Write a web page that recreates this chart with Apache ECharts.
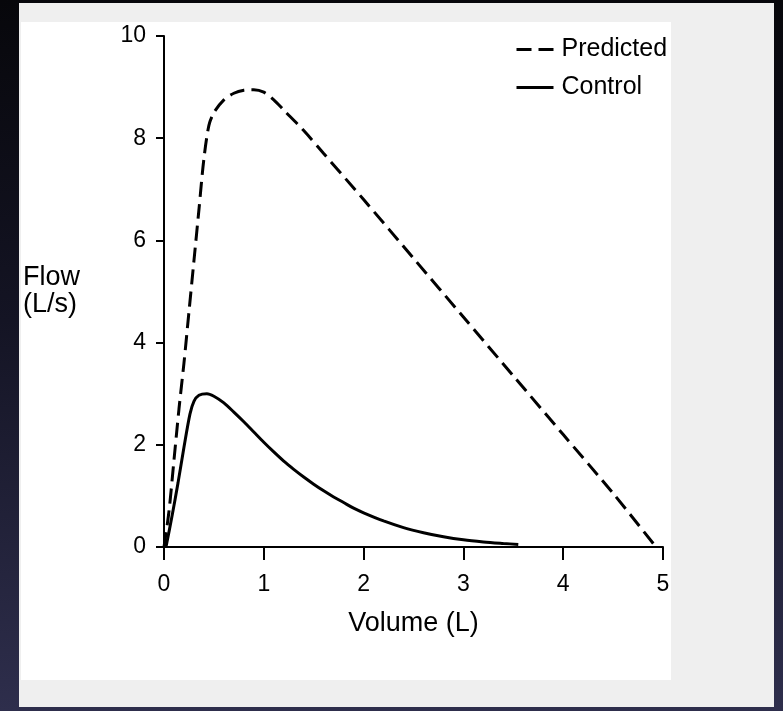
<!DOCTYPE html>
<html>
<head>
<meta charset="utf-8">
<script src="https://cdn.jsdelivr.net/npm/echarts@6/dist/echarts.min.js"></script>
<style>
  html, body { margin: 0; padding: 0; width: 783px; height: 711px; overflow: hidden;
    background: linear-gradient(180deg, #07070b 0%, #141424 45%, #2e2e4c 100%); }
  #chart { width: 783px; height: 711px; }
</style>
</head>
<body>
<div id="chart"></div>
<script>
// Data
const seriesNames = ['Predicted', 'Control'];
const predVol  = [0, 0.05, 0.1, 0.15, 0.2, 0.25, 0.3, 0.35, 0.4, 0.45, 0.5, 0.6, 0.7, 0.8, 0.9, 1.0, 1.1, 1.2, 1.4, 1.6, 2.0, 2.5, 3.0, 3.5, 4.0, 4.5, 4.93];
const predFlow = [0, 0.7, 1.7, 2.7, 3.6, 4.6, 5.6, 6.6, 7.6, 8.25, 8.5, 8.75, 8.88, 8.94, 8.95, 8.9, 8.75, 8.55, 8.15, 7.7, 6.8, 5.65, 4.5, 3.35, 2.2, 1.05, 0];
const ctrlVol  = [0.02, 0.08, 0.14, 0.2, 0.26, 0.3, 0.35, 0.43, 0.5, 0.6, 0.7, 0.8, 0.9, 1.0, 1.1, 1.2, 1.3, 1.4, 1.5, 1.6, 1.7, 1.8, 1.9, 2.0, 2.2, 2.4, 2.6, 2.8, 3.0, 3.2, 3.4, 3.55];
const ctrlFlow = [0, 0.6, 1.25, 1.95, 2.6, 2.85, 2.97, 3.0, 2.95, 2.82, 2.64, 2.45, 2.25, 2.05, 1.86, 1.68, 1.52, 1.37, 1.23, 1.1, 0.98, 0.87, 0.76, 0.67, 0.51, 0.38, 0.28, 0.2, 0.14, 0.1, 0.07, 0.05];
const xTickValues = [0, 1, 2, 3, 4, 5];
const yTickValues = [0, 2, 4, 6, 8, 10];

const FONT = "'Liberation Sans', Arial, sans-serif";

const chart = echarts.init(document.getElementById('chart'), null, { renderer: 'canvas' });

const option = {
  backgroundColor: 'transparent',
  animation: false,
  graphic: [
    { type: 'rect', z: -10, silent: true, shape: { x: 19, y: 3, width: 755, height: 704 }, style: { fill: '#efefef' } },
    { type: 'rect', z: -9, silent: true, shape: { x: 21, y: 22, width: 650, height: 658 }, style: { fill: '#ffffff' } }
  ],
  grid: { left: 164, top: 36, width: 499, height: 511, containLabel: false },
  legend: {
    orient: 'vertical',
    left: 510,
    top: 32,
    itemWidth: 37,
    itemHeight: 14,
    itemGap: 13,
    itemStyle: { color: 'transparent', borderColor: 'transparent', borderWidth: 0 },
    lineStyle: { width: 3, color: '#000' },
    textStyle: { fontFamily: FONT, fontSize: 25, color: '#000', padding: [0, 0, 0, 3] },
    data: seriesNames
  },
  xAxis: {
    type: 'value',
    min: 0, max: 5, interval: 1,
    name: 'Volume (L)',
    nameLocation: 'middle',
    nameGap: 63,
    nameTextStyle: { fontFamily: FONT, fontSize: 27, color: '#000', verticalAlign: 'top' },
    axisLine: { show: true, onZero: false, lineStyle: { color: '#000', width: 2 } },
    axisTick: { show: true, inside: false, length: 13, lineStyle: { color: '#000', width: 2 },
      customValues: xTickValues },
    axisLabel: { margin: 26, fontFamily: FONT, fontSize: 23, color: '#000',
      customValues: xTickValues },
    splitLine: { show: false }
  },
  yAxis: {
    type: 'value',
    min: 0, max: 10, interval: 2,
    name: 'Flow\n(L/s)',
    nameLocation: 'middle',
    nameRotate: 0,
    nameGap: 141,
    nameTextStyle: { fontFamily: FONT, fontSize: 27, color: '#000', align: 'left', lineHeight: 27,
      padding: [0, 0, 10, 0] },
    axisLine: { show: true, onZero: false, lineStyle: { color: '#000', width: 2 } },
    axisTick: { show: true, inside: false, length: 8, lineStyle: { color: '#000', width: 2 },
      customValues: yTickValues },
    axisLabel: { margin: 18, fontFamily: FONT, fontSize: 23, color: '#000',
      customValues: yTickValues },
    splitLine: { show: false }
  },
  series: [
    {
      name: seriesNames[0],
      type: 'line',
      smooth: 0.3,
      symbol: 'none',
      showSymbol: false,
      lineStyle: { color: '#000', width: 3, type: [15, 7] },
      itemStyle: { color: '#000' },
      data: predVol.map((v, i) => [v, predFlow[i]])
    },
    {
      name: seriesNames[1],
      type: 'line',
      smooth: 0.3,
      symbol: 'none',
      showSymbol: false,
      lineStyle: { color: '#000', width: 3, type: 'solid' },
      itemStyle: { color: '#000' },
      data: ctrlVol.map((v, i) => [v, ctrlFlow[i]])
    }
  ]
};
chart.setOption(option);
</script>
</body>
</html>
